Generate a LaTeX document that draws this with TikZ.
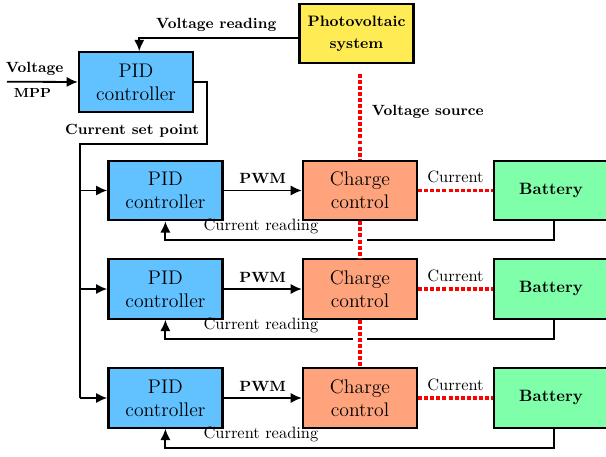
\documentclass[tikz,border=0pt]{standalone}
\usetikzlibrary{arrows.meta}
\definecolor{pidblue}{RGB}{98,194,255}
\definecolor{chargeorange}{RGB}{255,163,125}
\definecolor{batgreen}{RGB}{128,255,170}
\definecolor{pvyellow}{RGB}{255,236,85}
\begin{document}
\begin{tikzpicture}[x=0.02139cm, y=-0.02139cm,
        box/.style={draw, line width=1.4pt, minimum width=2.44cm, minimum height=1.27cm, align=center, inner sep=1pt},
        pid/.style={box, fill=pidblue, font=\large},
        charge/.style={box, fill=chargeorange, font=\large},
        battery/.style={box, fill=batgreen, font=\bfseries},
        pv/.style={box, fill=pvyellow, minimum height=1.26cm, font=\fontsize{9.2}{13}\selectfont\bfseries},
        wire/.style={line width=1.1pt},
        arr/.style={wire, -{Latex[length=2.4mm,width=2.2mm]}},
        power/.style={red, line width=2.2pt, dash pattern=on 2.4pt off 1.3pt},
        lbl/.style={font=\small\bfseries},
        gap/.style={white, line width=0.32cm}]
    \useasboundingbox (0,0) rectangle (606,457);
    \node[pv] (pv) at (356.5,33.7) {Photovoltaic\\system};
    \node[pid] (pid0) at (136,82) {PID\\controller};
    \foreach \n/\y in {1/190.5,2/289,3/398} {
        \node[pid] (pid\n) at (165.4,\y) {PID\\controller};
        \node[charge] (cc\n) at (360,\y) {Charge\\control};
        \node[battery] (bat\n) at (551,\y) {Battery};
    }
    \coordinate (vin) at (7,81.7);
    \coordinate (sp) at (207.3,144);
    \coordinate (bus) at (80,144);
    \draw[arr] ([yshift=-0.09cm]pv.west) -| node[above, lbl, pos=0.258] {Voltage reading} ([xshift=0.07cm]pid0.north);
    \draw[arr] (vin) -- node[above, lbl, pos=0.39] {Voltage} node[below, font=\footnotesize\bfseries, pos=0.36] {MPP} (pid0.west);
    \draw[wire] (pid0.east) -| (sp) -- node[above, lbl, pos=0.59] {Current set point} (bus) -- (bus |- pid3.west);
    \foreach \n in {1,2,3} {
        \draw[arr] (bus |- pid\n.west) -- (pid\n.west);
        \draw[arr] (pid\n) -- node[above, lbl] {PWM} (cc\n);
        \draw[power] (cc\n) -- node[above, text=black] {Current} (bat\n);
        \draw[arr] ([xshift=0.06cm]bat\n.south) -- ++(0,19) -| node[above, pos=0.377] {Current reading} (pid\n.south);
    }
    \draw[power, shorten <=0.2cm] (pv.south -| cc1.north) -- node[right, lbl, text=black, xshift=0.1cm] {Voltage source} (cc1.north);
    \foreach \a/\b in {1/2,2/3} {
        \draw[gap] (cc\a.south) ++(0,13) -- ++(0,12);
        \draw[power] (cc\a.south) -- (cc\b.north);
    }
\end{tikzpicture}
\end{document}
